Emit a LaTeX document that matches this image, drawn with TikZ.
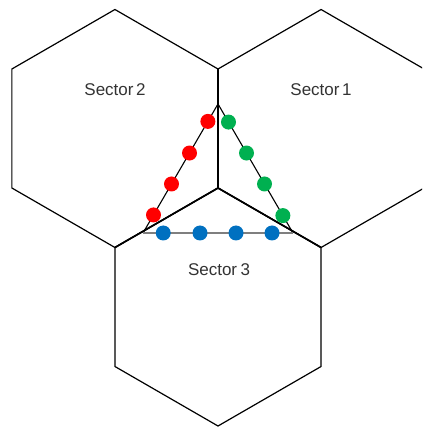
\documentclass[tikz,border=0pt]{standalone}
\usepackage{fontspec}
\setmainfont{Liberation Sans}
\usetikzlibrary{calc}
\definecolor{Ink}{HTML}{333333}
\definecolor{DotRed}{HTML}{FF0000}
\definecolor{DotGreen}{HTML}{00B050}
\definecolor{DotBlue}{HTML}{0070C0}
\definecolor{Rail}{HTML}{7F7F7F}

\begin{document}
\begin{tikzpicture}[x=1pt,y=1pt,
    cell/.style={draw=black,line width=1.2pt,line join=miter},
    spoke/.style={draw=black,line width=1.7pt},
    side/.style={draw=black,line width=1.1pt},
    sector/.style={text=Ink,font=\fontsize{17}{20}\selectfont},
    station/.style={circle,fill=#1,minimum size=15pt,inner sep=0pt},
]
\useasboundingbox (-218,-239) rectangle (204,188);
\clip (-218,-239) rectangle (204,188);
\coordinate (c) at (0,0);
% three hexagonal cells round the site
\foreach \name/\ang in {one/30,two/150,three/270}{
  \coordinate (\name) at (\ang:119);
  \draw[cell] ($(\name)+(30:119)$) -- ++(150:119) -- ++(210:119) -- ++(270:119)
    -- ++(330:119) -- ++(30:119) -- cycle;
}
\draw[spoke] (c) -- (90:119);
\draw[spoke] (c) -- (210:119);
\draw[spoke] (c) -- (330:119);
\node[sector] (s2) at (-103,98) {Sector\hspace{0.15em}2};
\node[sector] (s1) at (103,98) {Sector\hspace{0.15em}1};
\node[sector] (s3) at (1,-82) {Sector\hspace{0.2em}3};
% triangle of antennas
\coordinate (ta) at (0,84);
\coordinate (tb) at (-75,-45);
\coordinate (tc) at (75,-45);
\draw[side] (ta) -- (tb);
\draw[side] (tc) -- (ta);
\draw[Rail,line width=2.6pt] (tb) -- (tc);
\foreach \t [count=\i] in {0.135,0.38,0.62,0.86}{
  \node[station=DotRed] (r\i) at ($(ta)!\t!(tb)$) {};
  \node[station=DotBlue] (b\i) at ($(tb)!\t!(tc)$) {};
  \node[station=DotGreen] (g\i) at ($(tc)!\t!(ta)$) {};
}
\end{tikzpicture}
\end{document}
